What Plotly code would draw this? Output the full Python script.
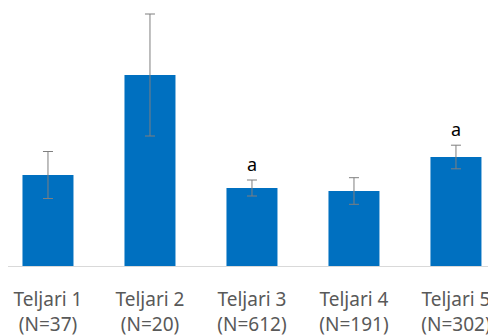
import plotly.graph_objects as go

categories = ["Teljari 1<br>(N=37)", "Teljari 2<br>(N=20)", "Teljari 3<br>(N=612)",
              "Teljari 4<br>(N=191)", "Teljari 5<br>(N=302)"]
values = [0.91, 1.91, 0.78, 0.75, 1.09]
errors = [0.235, 0.61, 0.08, 0.133, 0.118]
letters = ["", "", "a", "", "a"]

fig = go.Figure()
fig.add_trace(go.Bar(
    x=list(range(len(categories))), y=values,
    marker=dict(color="#0070C0", line=dict(width=0)),
    error_y=dict(type="data", array=errors, visible=True,
                 color="#7f7f7f", thickness=1, width=5),
    width=0.5,
))

for i, (v, e, l) in enumerate(zip(values, errors, letters)):
    if l:
        fig.add_annotation(x=i, y=v + e, text=l, showarrow=False,
                           yanchor="bottom", yshift=2,
                           font=dict(family="Noto Sans", size=18, color="#000000"))

fig.update_layout(
    width=496, height=336,
    margin=dict(l=0, r=0, t=0, b=78),
    paper_bgcolor="white", plot_bgcolor="white",
    showlegend=False,
    bargap=0.5,
)
fig.update_xaxes(
    range=[-0.392, 4.471],
    tickmode="array", tickvals=list(range(len(categories))), ticktext=categories,
    showline=True, linecolor="#d9d9d9", linewidth=1,
    showgrid=False, zeroline=False,
    ticks="outside", ticklen=16, tickcolor="rgba(0,0,0,0)",
    tickfont=dict(family="Noto Sans", size=19, color="#595959"),
)
fig.update_yaxes(range=[0, 2.58], visible=False, showgrid=False, zeroline=False)

fig.write_html("out.html")
